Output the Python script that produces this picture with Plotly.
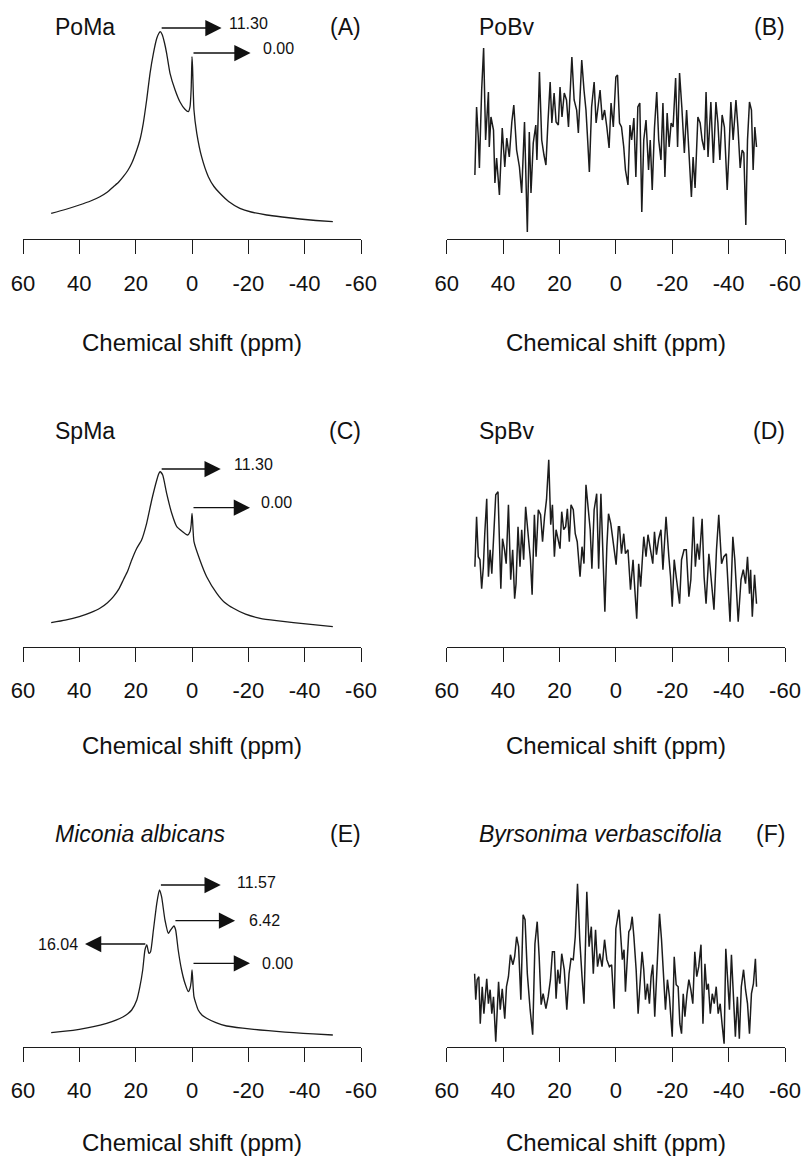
import plotly.graph_objects as go

# ---------------- data (relative intensity, arbitrary units) ----------------
poma_ppm = [50, 45, 40, 36, 32.7, 30, 27.9, 26, 24.4, 22.8, 21.4, 19.6, 18.5, 17.3, 16.1, 14.9, 13.7, 12.5, 11.8, 11.3,
            10.6, 9.8, 9.0, 7.8, 6.0, 4.3, 2.5, 1.3, 0.7, 0.3, 0.0, -0.2, -0.7, -1.7, -3.4, -5.8,
            -7.8, -9.9, -13.0, -17.0, -21.0, -26.5, -32.0, -38.3, -44.0, -50]
poma_int = [25.7, 29.5, 34, 38, 42.3, 47, 52.3, 57, 62.3, 68.5, 75.7, 89, 99, 115.7, 139, 165.7, 185.7, 200.7, 205.5, 207.3,
            204.5, 196.5, 185.7, 165.7, 149, 137.3, 129.7, 127.3, 132.3, 150, 182.3, 172, 129, 105.7, 82.3, 62.3,
            52.5, 45.7, 37.5, 30.7, 27, 24, 22, 20, 18.5, 17.3]

pobv_ppm = [50.0, 49.4, 48.8, 48.4, 47.6, 46.9, 46.2, 45.2, 44.9, 44.3, 43.4, 42.9, 42.3, 41.3, 40.3,
            39.4, 38.7, 37.8, 36.9, 36.2, 35.2, 34.2, 33.4, 32.4, 31.4, 30.7, 30.1, 29.3, 28.4, 28.0,
            27.1, 26.3, 25.5, 24.8, 24.1, 23.3, 22.7, 21.9, 21.2, 20.4, 19.8, 19.1, 18.3, 17.5, 16.8,
            15.6, 14.8, 13.9, 13.3, 12.7, 12.1, 11.3, 10.6, 10.0, 9.4, 8.6, 7.7, 7.0, 6.2, 5.6,
            4.8, 4.0, 3.2, 2.4, 1.7, 0.9, 0.0, -0.6, -1.3, -2.0, -2.8, -3.4, -4.3, -5.0, -5.6,
            -6.4, -7.1, -7.8, -8.5, -9.2, -9.9, -10.7, -11.6, -12.2, -12.9, -13.7, -14.5, -15.2, -16.0, -16.7,
            -17.4, -18.2, -18.9, -19.6, -20.3, -21.2, -21.9, -22.6, -23.4, -24.3, -25.1, -26.0, -26.8, -27.4, -28.1,
            -29.1, -29.9, -30.6, -31.4, -32.0, -32.7, -33.7, -34.6, -35.5, -36.2, -36.9, -37.7, -38.5, -39.5, -40.1,
            -40.8, -41.6, -42.6, -43.3, -44.1, -44.8, -45.4, -46.1, -46.7, -47.4, -48.1, -48.7, -49.3, -49.9]
pobv_int = [64, 132, 102, 71, 149, 191, 99, 147, 92, 122, 109, 56, 81, 44, 111,
            72, 101, 82, 117, 134, 89, 72, 46, 117, 7, 107, 46, 96, 114, 79,
            167, 99, 84, 74, 116, 157, 116, 146, 117, 114, 152, 122, 146, 139, 112,
            182, 139, 129, 106, 142, 179, 149, 129, 99, 67, 132, 157, 116, 134, 149,
            119, 129, 112, 91, 136, 112, 162, 164, 116, 112, 92, 69, 54, 114, 99,
            121, 62, 132, 136, 27, 99, 119, 69, 99, 49, 111, 147, 99, 79, 136,
            62, 126, 92, 116, 112, 161, 92, 166, 132, 86, 129, 86, 42, 82, 51,
            122, 116, 99, 89, 147, 82, 137, 76, 137, 116, 79, 124, 112, 49, 86,
            137, 99, 139, 112, 71, 89, 86, 14, 99, 137, 129, 69, 112, 92]

spma_ppm = [50, 45, 40, 36, 32.7, 30, 27.9, 26, 24.4, 22.8, 21.4, 19.6, 17.9, 16.1, 14.3, 12.5, 11.8, 11.3, 10.4, 9.0,
            7.2, 5.4, 3.3, 1.6, 0.7, 0.3, 0.0, -0.2, -0.7, -2.8, -5.2, -8.8, -11.5, -14.7, -19.0, -24.2,
            -30.0, -36.0, -43.0, -50]
spma_int = [24, 26.5, 30, 34, 38.4, 44, 50, 57.5, 66.7, 76, 86.7, 98.4, 106.7, 123.4, 146.7, 166.7, 173, 175, 171.7, 153.4,
            133.4, 120, 115, 111.7, 115, 122, 133.4, 126.7, 105, 86.7, 70, 53.4, 44.5, 38.4, 32.5, 28.4,
            26, 24, 22, 20]

spbv_ppm = [50.0, 49.4, 48.8, 48.2, 47.6, 47.0, 46.5, 45.8, 45.2, 44.6, 44.0, 43.4, 42.6, 41.8, 40.8,
            40.2, 39.5, 38.9, 38.1, 37.3, 36.6, 35.9, 35.4, 34.7, 34.0, 33.4, 32.7, 32.0, 31.0, 30.3,
            29.7, 28.9, 28.3, 27.5, 26.7, 26.0, 25.3, 24.6, 23.8, 23.1, 22.5, 21.8, 21.2, 20.5, 19.8,
            19.2, 18.5, 17.8, 17.2, 16.5, 15.9, 15.1, 14.4, 13.7, 12.7, 12.0, 11.3, 10.6, 9.8, 9.1,
            8.5, 7.7, 6.8, 6.1, 5.3, 4.7, 3.9, 3.2, 2.6, 1.8, 0.8, -0.1, -0.9, -1.3, -2.0,
            -2.8, -3.4, -4.3, -5.2, -6.1, -6.6, -7.4, -8.1, -8.8, -9.9, -10.7, -11.4, -12.2, -13.1, -13.7,
            -14.4, -15.2, -16.0, -16.7, -17.8, -18.8, -19.4, -20.0, -20.7, -21.4, -22.6, -23.3, -24.2, -25.0, -25.9,
            -26.6, -27.5, -28.2, -28.9, -29.6, -30.6, -31.3, -32.0, -33.0, -33.7, -34.8, -35.7, -36.5, -37.5, -38.3,
            -39.2, -40.5, -41.5, -42.2, -43.4, -44.4, -45.2, -46.0, -46.7, -47.4, -47.8, -48.4, -49.2, -49.9]
spbv_int = [80, 130, 90, 87, 58, 80, 113, 148, 70, 97, 73, 103, 152, 155, 58,
            108, 97, 83, 142, 67, 97, 48, 63, 120, 80, 117, 87, 140, 107, 87,
            52, 132, 90, 137, 132, 105, 130, 147, 187, 122, 142, 90, 117, 107, 98,
            135, 117, 120, 138, 105, 142, 137, 113, 105, 70, 100, 83, 162, 137, 117,
            78, 137, 153, 78, 153, 107, 35, 100, 133, 123, 100, 82, 120, 120, 93,
            113, 93, 97, 57, 87, 63, 28, 83, 60, 110, 90, 112, 100, 83, 115,
            92, 108, 117, 77, 130, 90, 70, 40, 87, 70, 43, 87, 97, 97, 50,
            67, 130, 80, 103, 87, 128, 70, 43, 93, 70, 37, 97, 132, 83, 90,
            93, 25, 110, 87, 25, 67, 77, 63, 90, 53, 77, 30, 72, 43]

mial_ppm = [50, 45, 40, 35, 30.3, 27, 24.4, 22.8, 21.4, 19.6, 18.5, 17.5, 16.7, 16.04, 15.3, 14.7, 13.7, 12.5, 11.57,
            10.8, 9.6, 8.4, 7.6, 6.42, 5.8, 4.9, 3.7, 2.5, 1.3, 0.7, 0.3, 0.0, -0.2, -0.7,
            -2.2, -3.6, -5.2, -8.5, -12.3, -18.0, -24.2, -30.0, -36.0, -43.0, -50]
mial_int = [14, 15.5, 17.4, 20, 23.4, 26.5, 30, 33, 36.7, 46.7, 60, 76.7, 96.7, 101.7, 93.4, 95, 116.7, 143.4, 156.7,
            150, 126.7, 113.4, 116.7, 120.7, 116.7, 96.7, 76.7, 63.4, 55, 58.4, 65, 76.7, 70, 50,
            36.7, 31.5, 28.4, 24, 20.7, 18.5, 16.7, 15.3, 14, 12.8, 11.7]

byve_ppm = [50.1, 49.7, 49.2, 48.6, 48.1, 47.4, 46.8, 45.8, 45.2, 44.6, 44.0, 43.4, 42.6, 41.6, 41.0,
            40.3, 39.4, 38.8, 38.1, 37.4, 36.5, 35.9, 35.2, 34.5, 33.7, 32.9, 32.2, 31.4, 30.4, 29.5,
            28.7, 27.9, 27.2, 26.5, 25.8, 24.8, 24.0, 23.2, 22.5, 21.8, 21.2, 20.6, 19.9, 19.2, 18.3,
            17.4, 16.6, 15.9, 15.1, 14.4, 13.6, 12.8, 12.0, 11.3, 10.3, 9.5, 8.7, 8.0, 7.2, 6.5,
            5.7, 4.9, 4.0, 3.2, 2.3, 1.5, 0.6, 0.0, -1.1, -1.7, -2.3, -2.9, -3.4, -4.1, -4.6,
            -5.2, -5.8, -6.4, -7.2, -7.9, -8.6, -9.3, -9.9, -10.5, -11.2, -11.9, -12.5, -13.1, -13.8, -14.6,
            -15.5, -16.2, -16.8, -17.6, -18.3, -19.0, -20.0, -20.7, -21.4, -22.1, -22.7, -23.3, -23.9, -24.5, -25.2,
            -25.9, -26.6, -27.3, -28.0, -28.7, -29.4, -30.2, -30.9, -31.6, -32.2, -32.8, -33.5, -34.2, -34.9, -35.6,
            -36.3, -37.0, -37.7, -38.4, -39.0, -39.7, -40.3, -41.0, -41.7, -42.4, -43.1, -43.8, -44.5, -45.3, -46.0,
            -46.7, -47.4, -48.1, -48.8, -49.5, -49.9]
byve_int = [73, 47, 67, 70, 23, 60, 33, 68, 43, 57, 33, 50, 5, 65, 37,
            58, 28, 60, 70, 92, 82, 90, 110, 100, 47, 132, 127, 73, 37, 12,
            103, 125, 90, 42, 53, 38, 50, 67, 95, 95, 48, 77, 63, 93, 77,
            37, 73, 88, 87, 110, 163, 107, 70, 43, 155, 100, 120, 73, 117, 80,
            93, 80, 107, 87, 80, 82, 38, 118, 137, 105, 87, 97, 55, 90, 115,
            118, 130, 110, 77, 33, 67, 95, 77, 47, 63, 43, 70, 82, 30, 87,
            133, 107, 77, 37, 67, 50, 10, 90, 62, 60, 23, 13, 53, 30, 52,
            67, 57, 43, 95, 70, 80, 102, 23, 83, 57, 63, 33, 53, 43, 60,
            33, 43, 22, 3, 98, 70, 37, 92, 43, 10, 50, 8, 60, 77, 57,
            43, 13, 53, 63, 88, 60]

tick_vals = [60, 40, 20, 0, -20, -40, -60]
tick_text = ["60", "40", "20", "0", "-20", "-40", "-60"]

panel_titles = ["PoMa", "PoBv", "SpMa", "SpBv", "<i>Miconia albicans</i>", "<i>Byrsonima verbascifolia</i>"]
panel_letters = ["(A)", "(B)", "(C)", "(D)", "(E)", "(F)"]
x_title = "Chemical shift (ppm)"

# peak labels
peak_ppm = [11.30, 0.00, 11.30, 0.00, 11.57, 6.42, 16.04, 0.00]
peak_label = ["11.30", "0.00", "11.30", "0.00", "11.57", "6.42", "16.04", "0.00"]
peak_panel = [0, 0, 2, 2, 4, 4, 4, 4]
arrow_h = [211, 186, 177.7, 139, 161.7, 126, 102.7, 83.4]
arrow_end = [-10.5, -20.8, -10.2, -20.6, -10.2, -15.3, 38.0, -20.6]
text_pos = [-12.4, -24.5, -14.1, -23.9, -15.3, -19.4, 39.8, -24.1]

# ---------------- layout geometry ----------------
W, H = 802, 1163
col_px = [(23, 361), (446.7, 785)]
row_axis_px = [239, 646.7, 1046.7]
PH = 224  # plot height in px (y range 0..224 units)

series = [(poma_ppm, poma_int), (pobv_ppm, pobv_int), (spma_ppm, spma_int),
          (spbv_ppm, spbv_int), (mial_ppm, mial_int), (byve_ppm, byve_int)]
smooth = [True, False, True, False, True, False]

FONT = "Liberation Sans, Arial, sans-serif"
LINE = "#1c1c1c"

fig = go.Figure()
layout = dict(width=W, height=H, margin=dict(l=0, r=0, t=0, b=0, autoexpand=False),
              paper_bgcolor="white", plot_bgcolor="white", showlegend=False)
annotations = []

for i, (xs, ys) in enumerate(series):
    r, c = divmod(i, 2)
    n = i + 1
    xa = "xaxis" if n == 1 else f"xaxis{n}"
    ya = "yaxis" if n == 1 else f"yaxis{n}"
    xref = "x" if n == 1 else f"x{n}"
    yref = "y" if n == 1 else f"y{n}"
    x0, x1 = col_px[c]
    yb = row_axis_px[r]
    layout[xa] = dict(domain=[x0 / W, x1 / W], range=[60, -60], anchor=yref, automargin=False,
                      tickvals=tick_vals, ticktext=tick_text, ticks="outside", ticklen=14,
                      tickwidth=1.3, tickcolor=LINE, showline=True, linecolor=LINE, linewidth=1.3,
                      showgrid=False, zeroline=False, ticklabelstandoff=10,
                      tickfont=dict(family=FONT, size=22, color="#111"), fixedrange=True)
    layout[ya] = dict(domain=[1 - yb / H, 1 - (yb - PH) / H], range=[0, PH], anchor=xref,
                      visible=False, automargin=False, fixedrange=True)
    if smooth[i]:
        line = dict(color=LINE, width=1.3, shape="spline", smoothing=0.5)
    else:
        line = dict(color=LINE, width=1.5)
    fig.add_trace(go.Scatter(x=xs, y=ys, mode="lines", xaxis=xref, yaxis=yref,
                             line=line, hoverinfo="skip"))
    title_y = [27, 431, 834][r]
    annotations.append(dict(text=panel_titles[i], xref="paper", yref="paper",
                            x=(x0 + 30) / W, y=1 - title_y / H, xanchor="left", yanchor="middle",
                            showarrow=False, font=dict(family=FONT, size=23, color="#111")))
    annotations.append(dict(text=panel_letters[i], xref="paper", yref="paper",
                            x=(x1 + 2) / W, y=1 - title_y / H, xanchor="right", yanchor="middle",
                            showarrow=False, font=dict(family=FONT, size=23, color="#111")))
    xt_y = [342, 746, 1142][r]
    annotations.append(dict(text=x_title, xref="paper", yref="paper",
                            x=((x0 + x1) / 2) / W, y=1 - xt_y / H, xanchor="center", yanchor="middle",
                            showarrow=False, font=dict(family=FONT, size=24, color="#111")))

for k in range(len(peak_ppm)):
    n = peak_panel[k] + 1
    xref = "x" if n == 1 else f"x{n}"
    yref = "y" if n == 1 else f"y{n}"
    annotations.append(dict(text="", x=arrow_end[k], y=arrow_h[k], ax=peak_ppm[k], ay=arrow_h[k],
                            xref=xref, yref=yref, axref=xref, ayref=yref, showarrow=True,
                            arrowhead=2, arrowsize=2.5, arrowwidth=1.3, arrowcolor="#111",
                            standoff=0, startstandoff=0))
    leftward = arrow_end[k] > peak_ppm[k]
    ysh = 5 if peak_panel[k] < 4 else (3 if k == 4 else 0)
    annotations.append(dict(text=peak_label[k], x=text_pos[k], y=arrow_h[k], xref=xref, yref=yref,
                            xanchor="right" if leftward else "left", yanchor="middle", yshift=ysh,
                            showarrow=False, font=dict(family=FONT, size=16, color="#111")))

layout["annotations"] = annotations
fig.update_layout(**layout)
fig.write_html("out.html")
